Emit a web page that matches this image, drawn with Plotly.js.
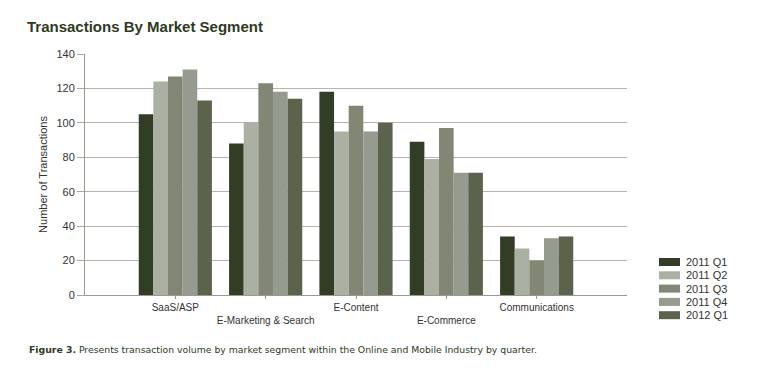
<!DOCTYPE html>
<html>
<head>
<meta charset="utf-8">
<script src="https://cdn.plot.ly/plotly-3.0.1.min.js"></script>
<style>
html,body{margin:0;padding:0;background:#fff;}
#chart{width:771px;height:386px;}
</style>
</head>
<body>
<div id="chart"></div>
<script>
const categories = ["SaaS/ASP", "E-Marketing & Search", "E-Content", "E-Commerce", "Communications"];
const seriesNames = ["2011 Q1", "2011 Q2", "2011 Q3", "2011 Q4", "2012 Q1"];
const q1_2011 = [105, 88, 118, 89, 34];
const q2_2011 = [124, 100, 95, 79, 27];
const q3_2011 = [127, 123, 110, 97, 20];
const q4_2011 = [131, 118, 95, 71, 33];
const q1_2012 = [113, 114, 100, 71, 34];
const yTicks = [0, 20, 40, 60, 80, 100, 120, 140];

const seriesValues = [q1_2011, q2_2011, q3_2011, q4_2011, q1_2012];
const colors = ["#323d25", "#aab1a3", "#828674", "#969b8f", "#5b634d"];

const FONT = "'Liberation Sans', Arial, sans-serif";

const traces = seriesValues.map((vals, i) => ({
  type: "bar",
  name: seriesNames[i],
  x: categories,
  y: vals,
  marker: {color: colors[i], line: {width: 0}},
  hoverinfo: "none",
  showlegend: false
}));

// staggered category labels
const tickText = categories.map((c, i) => i % 2 === 1 ? "<br>" + c : c);

// compact legend (pixel layout -> paper coords)
const plotL = 85, plotR = 627, plotT = 54, plotB = 295;
const pw = plotR - plotL, ph = plotB - plotT;
const px = x => (x - plotL) / pw;
const py = y => (plotB - y) / ph;
const legendShapes = [], legendAnn = [];
seriesNames.forEach((n, i) => {
  const cy = 262 + i * 13.3;
  legendShapes.push({
    type: "rect", xref: "paper", yref: "paper",
    x0: px(659), x1: px(680), y0: py(cy + 4), y1: py(cy - 4),
    fillcolor: colors[i], line: {width: 0}
  });
  legendAnn.push({
    xref: "paper", yref: "paper", x: px(684), xanchor: "left",
    y: py(cy), yanchor: "middle", showarrow: false, text: n,
    font: {family: FONT, size: 11, color: "#333333"}
  });
});

const layout = {
  width: 771, height: 386,
  margin: {l: plotL, r: 771 - plotR, t: plotT, b: 386 - plotB},
  paper_bgcolor: "#ffffff",
  plot_bgcolor: "#ffffff",
  font: {family: FONT, size: 10, color: "#333333"},
  title: {
    text: "<b>Transactions By Market Segment</b>",
    font: {family: FONT, size: 15, color: "#2e3a22"},
    x: 27/771, xanchor: "left", xref: "container",
    y: 1 - 27/386, yanchor: "middle", yref: "container"
  },
  barmode: "group",
  bargap: 0.19,
  bargroupgap: 0,
  showlegend: false,
  xaxis: {
    type: "category",
    range: [-1, 5],
    tickmode: "array",
    tickvals: categories,
    ticktext: tickText,
    ticks: "outside", ticklen: 3, tickcolor: "#999990",
    showline: true, linecolor: "#999990", linewidth: 1,
    showgrid: false, zeroline: false,
    tickfont: {family: FONT, size: 10, color: "#333333"},
    fixedrange: true
  },
  yaxis: {
    range: [0, 140],
    tickmode: "array",
    tickvals: yTicks,
    ticks: "outside", ticklen: 7, tickcolor: "#aaaaa0",
    showline: true, linecolor: "#999990", linewidth: 1,
    showgrid: true, gridcolor: "#b4b4aa", gridwidth: 1,
    zeroline: false,
    tickfont: {family: FONT, size: 11, color: "#333333"},
    title: {text: "Number of Transactions", font: {family: FONT, size: 11, color: "#333333"}, standoff: 6},
    fixedrange: true
  },
  shapes: legendShapes,
  annotations: legendAnn.concat([{
    xref: "paper", yref: "paper",
    x: px(27), xanchor: "left",
    y: py(349), yanchor: "middle",
    showarrow: false,
    text: "<b>Figure 3.</b> Presents transaction volume by market segment within the Online and Mobile Industry by quarter.",
    font: {family: "'DejaVu Sans', Verdana, sans-serif", size: 9.3, color: "#2e3a22"}
  }])
};

Plotly.newPlot("chart", traces, layout, {staticPlot: true, displayModeBar: false});
</script>
</body>
</html>
